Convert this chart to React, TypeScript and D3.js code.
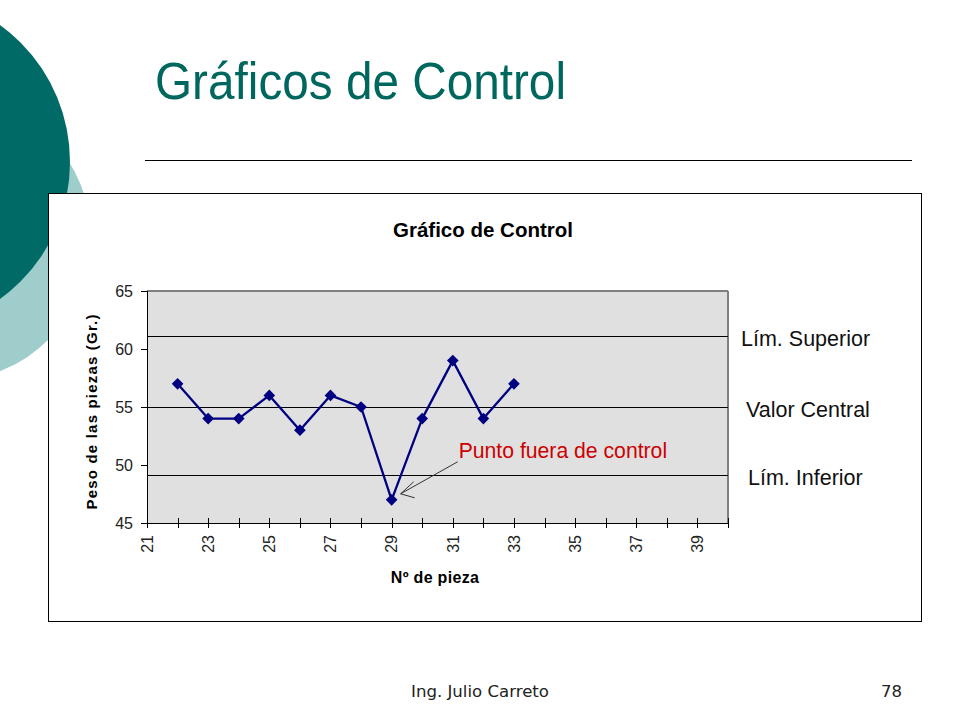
import * as d3 from 'd3';

const pieceNumbers = [22, 23, 24, 25, 26, 27, 28, 29, 30, 31, 32, 33];
const pieceWeights = [57, 54, 54, 56, 53, 56, 55, 47, 54, 59, 54, 57];

const limitNames = ['Lím. Superior', 'Valor Central', 'Lím. Inferior'];
const limitValues = [61.1, 55, 49.1];

const yTickValues = [45, 50, 55, 60, 65];
const xTickValues = d3.range(21, 41);
const xTickLabels = [21, 23, 25, 27, 29, 31, 33, 35, 37, 39];

const outOfControlPiece = 29;

const plot = { left: 147, right: 728, top: 291, bottom: 523 };

const NAVY = '#000080';
const TEAL = '#00675f';
const FONT = '"Liberation Sans", Arial, sans-serif';
const FOOTER_FONT = '"DejaVu Sans", Tahoma, sans-serif';

export default function App() {
  const xScale = d3.scaleLinear().domain([21, 40]).range([plot.left, plot.right]);
  const yScale = d3.scaleLinear().domain([45, 65]).range([plot.bottom, plot.top]);

  const points = pieceNumbers.map((n, i) => [n, pieceWeights[i]] as [number, number]);

  const linePath = d3
    .line<[number, number]>()
    .x((d) => xScale(d[0]))
    .y((d) => yScale(d[1]))(points)!;

  const diamond = d3.symbol(d3.symbolSquare, 68)()!;

  // arrow to the point that is out of control
  const outIdx = pieceNumbers.indexOf(outOfControlPiece);
  const tipX = xScale(outOfControlPiece) + 9;
  const tipY = yScale(pieceWeights[outIdx]) - 6;
  const tailX = tipX + 57;
  const tailY = tipY - 32;

  return (
    <svg
      width={960}
      height={720}
      style={{ position: 'absolute', left: 0, top: 0, background: '#fff' }}
      fontFamily={FONT}
    >
      {/* decorative circles */}
      <circle cx={-52} cy={238} r={143} fill="#9fcdcc" />
      <circle cx={-99} cy={162} r={169} fill="#006a66" />

      <text x={155} y={99} fontSize={52} fill={TEAL} textLength={411} lengthAdjust="spacingAndGlyphs">
        Gráficos de Control
      </text>
      <line x1={145} x2={912} y1={160.5} y2={160.5} stroke="#000" strokeWidth={1} />

      {/* chart frame */}
      <rect x={48.5} y={193.5} width={873} height={428} fill="#fff" stroke="#000" strokeWidth={1} />

      <text x={393} y={237} fontSize={21} fontWeight="bold" fill="#000" textLength={180} lengthAdjust="spacingAndGlyphs">
        Gráfico de Control
      </text>

      {/* plot area */}
      <rect
        x={plot.left}
        y={plot.top}
        width={plot.right - plot.left}
        height={plot.bottom - plot.top}
        fill="#e0e0e0"
      />
      <line x1={plot.left} x2={plot.right} y1={plot.top} y2={plot.top} stroke="#808080" strokeWidth={2} />
      <line x1={plot.right} x2={plot.right} y1={plot.top} y2={plot.bottom} stroke="#808080" strokeWidth={2} />

      {/* control limits */}
      {limitValues.map((v, i) => (
        <g key={limitNames[i]}>
          <line
            x1={plot.left}
            x2={plot.right}
            y1={Math.round(yScale(v)) + 0.5}
            y2={Math.round(yScale(v)) + 0.5}
            stroke="#000"
            strokeWidth={1}
          />
          <text x={[741, 746, 748][i]} y={yScale(v) + 10} fontSize={21.5} fill="#111">
            {limitNames[i]}
          </text>
        </g>
      ))}

      {/* y axis */}
      <line x1={plot.left + 0.5} x2={plot.left + 0.5} y1={plot.top} y2={plot.bottom} stroke="#000" />
      {yTickValues.map((t) => (
        <g key={t}>
          <line
            x1={plot.left - 6}
            x2={plot.left}
            y1={Math.round(yScale(t)) + 0.5}
            y2={Math.round(yScale(t)) + 0.5}
            stroke="#000"
          />
          <text x={plot.left - 14} y={yScale(t)} dy="0.36em" fontSize={16} textAnchor="end" fill="#222">
            {t}
          </text>
        </g>
      ))}

      {/* x axis */}
      <line x1={plot.left} x2={plot.right} y1={plot.bottom + 0.5} y2={plot.bottom + 0.5} stroke="#000" />
      {xTickValues.map((t) => (
        <line
          key={t}
          x1={Math.round(xScale(t)) + 0.5}
          x2={Math.round(xScale(t)) + 0.5}
          y1={plot.bottom - 5}
          y2={plot.bottom + 5}
          stroke="#000"
        />
      ))}
      {xTickLabels.map((t) => (
        <text
          key={t}
          transform={`translate(${xScale(t)},${plot.bottom + 12}) rotate(-90)`}
          dy="0.36em"
          fontSize={16}
          textAnchor="end"
          fill="#222"
        >
          {t}
        </text>
      ))}

      {/* axis titles */}
      <text
        transform={`translate(92,${(plot.top + plot.bottom) / 2 + 5}) rotate(-90)`}
        fontSize={15}
        fontWeight="bold"
        textAnchor="middle"
        dy="0.36em"
        textLength={195}
        lengthAdjust="spacing"
        fill="#000"
      >
        Peso de las piezas (Gr.)
      </text>
      <text x={435} y={583} fontSize={16} fontWeight="bold" textAnchor="middle" letterSpacing={0.3} fill="#000">
        Nº de pieza
      </text>

      {/* series */}
      <path d={linePath} fill="none" stroke={NAVY} strokeWidth={2.3} strokeLinejoin="round" />
      {points.map((d) => (
        <path
          key={d[0]}
          d={diamond}
          transform={`translate(${xScale(d[0])},${yScale(d[1])}) rotate(45)`}
          fill={NAVY}
        />
      ))}

      {/* annotation */}
      <text x={tailX + 1} y={tailY - 4} fontSize={21.2} fill="#cc0000">
        Punto fuera de control
      </text>
      <line x1={tailX} y1={tailY} x2={tipX} y2={tipY} stroke="#333" strokeWidth={1} />
      <polyline
        points={`${tipX + 13},${tipY - 12} ${tipX},${tipY} ${tipX + 14},${tipY + 4}`}
        fill="none"
        stroke="#333"
        strokeWidth={1}
      />

      {/* footer */}
      <text x={411} y={697} fontSize={16.5} fontFamily={FOOTER_FONT} fill="#222" textLength={138} lengthAdjust="spacingAndGlyphs">
        Ing. Julio Carreto
      </text>
      <text x={902} y={697} fontSize={16.5} textAnchor="end" fontFamily={FOOTER_FONT} fill="#222">
        78
      </text>
    </svg>
  );
}
